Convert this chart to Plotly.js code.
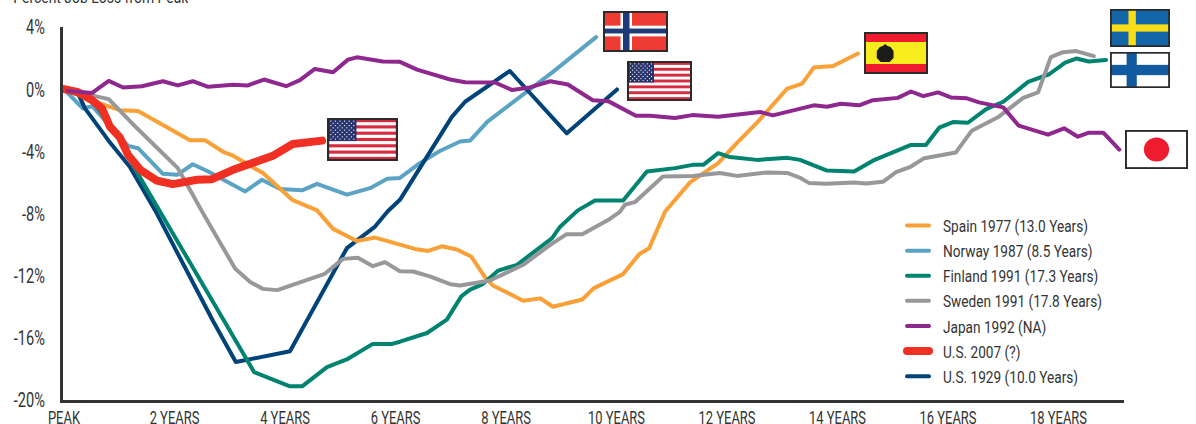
<!DOCTYPE html>
<html><head><meta charset="utf-8">
<script src="https://cdn.plot.ly/plotly-3.0.1.min.js"></script>
<style>
html,body{margin:0;padding:0;background:#fff;overflow:hidden}
#c{width:1196px;height:424px}
.js-line,.legendlines path{stroke-linecap:round;stroke-linejoin:round}
</style></head><body><div id="c"></div>
<script>
var FONT='Roboto,"Liberation Sans",sans-serif';
var TEXT='#333333';

var yearTicks=[0,2,4,6,8,10,12,14,16,18];
var yearLabels=['PEAK','2 YEARS','4 YEARS','6 YEARS','8 YEARS','10 YEARS','12 YEARS','14 YEARS','16 YEARS','18 YEARS'];
var pctTicks=[4,0,-4,-8,-12,-16,-20];
var pctLabels=['4%','0%','-4%','-8%','-12%','-16%','-20%'];

var spainX=[0,0.65,1.01,1.34,2.28,2.55,2.88,3.06,3.60,4.13,4.58,4.87,5.30,5.63,6.08,6.35,6.59,6.84,7.11,7.37,7.62,7.76,8.31,8.62,8.85,9.38,9.59,10.12,10.41,10.59,10.88,11.33,11.84,12.18,12.56,13.09,13.36,13.57,13.92,14.37];
var spainY=[0,-0.92,-1.35,-1.41,-3.28,-3.28,-4.03,-4.28,-5.40,-7.12,-7.80,-8.99,-9.77,-9.55,-10.0,-10.28,-10.41,-10.11,-10.32,-10.77,-12.10,-12.63,-13.61,-13.46,-14.0,-13.53,-12.80,-11.90,-10.62,-10.24,-7.87,-6.0,-4.76,-3.45,-2.09,0.04,0.36,1.39,1.49,2.29];

var norwayX=[0,0.34,0.51,1.16,1.34,1.79,2.05,2.33,2.61,3.28,3.58,3.91,4.31,4.58,5.12,5.54,5.85,6.08,6.44,6.81,7.17,7.35,7.66,8.38,8.85,9.63];
var norwayY=[0,-1.24,-1.09,-3.65,-3.80,-5.45,-5.51,-4.83,-5.30,-6.58,-5.83,-6.42,-6.51,-6.09,-6.79,-6.37,-5.77,-5.71,-4.76,-3.96,-3.37,-3.31,-2.10,-0.17,1.11,3.35];

var finlandX=[0,0.51,0.83,1.05,1.16,1.38,1.74,3.44,4.09,4.31,4.76,5.14,5.59,5.94,6.08,6.57,6.93,7.19,7.35,7.58,7.86,8.20,8.83,8.98,9.30,9.61,10.12,10.55,11.06,11.38,11.57,11.84,12.05,12.54,13.10,13.32,13.81,14.30,14.64,14.93,15.33,15.60,15.84,16.09,16.36,16.69,17.0,17.45,17.83,18.12,18.32,18.55,18.86];
var finlandY=[0,-0.71,-2.31,-3.27,-4.23,-5.70,-7.88,-18.2,-19.12,-19.12,-17.88,-17.35,-16.39,-16.39,-16.25,-15.69,-14.83,-13.33,-12.90,-12.54,-11.67,-11.30,-9.60,-8.85,-7.8,-7.16,-7.16,-5.30,-5.08,-4.87,-4.87,-4.12,-4.37,-4.55,-4.42,-4.55,-5.24,-5.30,-4.60,-4.19,-3.59,-3.59,-2.48,-2.12,-2.16,-1.28,-0.81,0.47,0.96,1.71,1.97,1.78,1.88];

var swedenX=[0,0.52,0.81,1.23,2.06,2.28,2.50,3.10,3.37,3.60,3.86,4.72,5.05,5.32,5.59,5.81,6.08,6.32,6.62,6.99,7.17,7.71,8.31,8.80,9.09,9.38,9.88,10.06,10.15,10.33,10.84,11.38,11.87,12.18,12.72,13.10,13.32,13.48,13.79,14.30,14.52,14.82,15.06,15.33,15.57,16.14,16.43,16.92,17.36,17.63,17.86,18.08,18.32,18.64];
var swedenY=[0,-0.43,-0.64,-2.19,-5.08,-6.47,-7.88,-11.56,-12.41,-12.85,-12.93,-11.88,-10.92,-10.85,-11.39,-11.13,-11.72,-11.73,-12.05,-12.55,-12.63,-12.31,-11.30,-10.02,-9.34,-9.34,-8.35,-7.9,-7.44,-7.27,-5.62,-5.58,-5.40,-5.58,-5.36,-5.40,-5.7,-6.03,-6.09,-6.0,-6.07,-5.96,-5.34,-4.98,-4.44,-4.08,-2.67,-1.77,-0.56,-0.21,2.06,2.38,2.45,2.13];

var japanX=[0.07,0.51,0.81,1.07,1.41,1.79,2.06,2.33,2.61,3.06,3.33,3.62,4.02,4.27,4.54,4.87,5.14,5.30,5.77,6.08,6.39,6.68,6.99,7.26,7.80,8.11,8.43,8.80,9.12,9.57,9.85,10.35,10.61,11.06,11.37,11.84,12.60,12.83,13.32,13.57,13.81,14.06,14.39,14.64,15.09,15.33,15.55,15.82,16.05,16.33,16.56,17.0,17.28,17.81,18.10,18.35,18.55,18.81,19.10];
var japanY=[-0.11,-0.24,0.53,0.11,0.19,0.51,0.24,0.51,0.15,0.28,0.24,0.62,0.19,0.58,1.30,1.09,1.90,2.05,1.78,1.76,1.26,0.94,0.62,0.45,0.43,-0.06,0.11,0.51,0.30,-0.71,-0.77,-1.71,-1.71,-1.86,-1.67,-1.78,-1.47,-1.69,-1.28,-1.04,-1.13,-0.94,-1.04,-0.71,-0.56,-0.15,-0.45,-0.21,-0.53,-0.58,-0.85,-1.17,-2.35,-2.93,-2.52,-3.06,-2.80,-2.80,-3.89];

var us2007X=[0,0.24,0.51,0.69,0.83,1.01,1.16,1.38,1.68,1.97,2.41,2.68,3.06,3.78,4.14,4.42,4.67];
var us2007Y=[0,-0.17,-0.71,-1.25,-2.40,-3.10,-4.23,-5.19,-5.88,-6.11,-5.83,-5.79,-5.19,-4.29,-3.53,-3.48,-3.31];

var us1929X=[0,0.24,0.38,0.80,1.19,1.65,2.70,3.11,4.09,5.12,5.63,5.86,6.08,6.57,7.02,7.26,8.07,9.10,10.01];
var us1929Y=[0,-0.17,-1.24,-3.28,-4.99,-7.80,-14.93,-17.56,-16.86,-10.23,-8.84,-7.86,-7.12,-4.34,-1.78,-0.81,1.17,-2.84,-0.02];

var seriesNames=['Spain 1977 (13.0 Years)','Norway 1987 (8.5 Years)','Finland 1991 (17.3 Years)','Sweden 1991 (17.8 Years)','Japan 1992 (NA)','U.S. 2007 (?)','U.S. 1929 (10.0 Years)'];
var seriesColors=['#F9A036','#5BA3C4','#00846F','#98989A','#8E288E','#F03022','#004379'];

function tr(i,x,y,w){return {x:x,y:y,name:seriesNames[i],mode:'lines',legendrank:i+1,
  line:{color:seriesColors[i],width:w||4,shape:'linear'},hoverinfo:'skip'};}
var data=[tr(1,norwayX,norwayY),tr(6,us1929X,us1929Y),tr(0,spainX,spainY),tr(2,finlandX,finlandY),
          tr(3,swedenX,swedenY),tr(5,us2007X,us2007Y,8),tr(4,japanX,japanY)];

/* flags */
function wrap(inner){return 'data:image/svg+xml;charset=utf-8,'+encodeURIComponent(
 '<svg xmlns="http://www.w3.org/2000/svg" width="130" height="84" viewBox="0 0 130 84" preserveAspectRatio="none">'+inner+
 '<rect x="2" y="2" width="126" height="80" fill="none" stroke="#2b2b2b" stroke-width="4"/></svg>');}
function usFlag(){var s='<rect width="130" height="84" fill="#fff"/>',i,j,h=80/13;
 for(i=0;i<13;i+=2)s+='<rect x="2" y="'+(2+i*h)+'" width="126" height="'+h+'" fill="#D92B3F"/>';
 s+='<rect x="2" y="2" width="52" height="'+(7*h)+'" fill="#27346E"/>';
 for(j=0;j<9;j++)for(i=0;i<(j%2?5:6);i++)s+='<circle cx="'+(7+i*8.4+(j%2?4.2:0))+'" cy="'+(6+j*4.4)+'" r="1.3" fill="#fff"/>';
 return wrap(s);}
function norway(){return wrap('<rect width="130" height="84" fill="#EE3B33"/><rect x="35" width="23" height="84" fill="#fff"/><rect y="30" width="130" height="22" fill="#fff"/><rect x="40" width="13" height="84" fill="#1F3A7A"/><rect y="36" width="130" height="10" fill="#1F3A7A"/>');}
function spain(){return wrap('<rect width="130" height="84" fill="#EE1C2E"/><rect y="20" width="130" height="44" fill="#F7EC1E"/><path d="M26,38 L32,30 L38,28 L43,24 L48,28 L54,30 L60,38 L60,52 L52,60 L34,60 L26,52 Z" fill="#1c1c1c"/>');}
function sweden(){return wrap('<rect width="130" height="84" fill="#1367A8"/><rect x="40" width="16" height="84" fill="#F9DD16"/><rect y="34" width="130" height="16" fill="#F9DD16"/>');}
function finland(){return wrap('<rect width="130" height="84" fill="#fff"/><rect x="36" width="22" height="84" fill="#125AA0"/><rect y="30" width="130" height="24" fill="#125AA0"/>');}
function japan(){return wrap('<rect width="130" height="84" fill="#fff"/><circle cx="65" cy="42" r="26" fill="#EE1C2E"/>');}
var flagBoxes=[[usFlag(),327,118,398,161],[norway(),603,11,668,52],[usFlag(),627,61,692,101],[spain(),864,32,928,74],[sweden(),1110,9,1170,47],[finland(),1110,52,1170,88],[japan(),1125,130,1188,169]];
var L=63,T=27,R=1124,B=400;
var images=flagBoxes.map(function(f){return {source:f[0],xref:'paper',yref:'paper',
  x:(f[1]-L)/(R-L),y:(B-f[2])/(B-T),sizex:(f[3]-f[1])/(R-L),sizey:(f[4]-f[2])/(B-T),
  xanchor:'left',yanchor:'top',sizing:'stretch',layer:'above'};});

var layout={
 width:1196,height:424,margin:{l:L,r:1196-R,t:T,b:424-B,pad:0},
 paper_bgcolor:'#fff',plot_bgcolor:'#fff',
 font:{family:FONT,color:TEXT,size:18},
 xaxis:{range:[-0.018,19.185],tickvals:yearTicks,ticktext:yearLabels,showgrid:false,zeroline:false,
   showline:true,linecolor:'#333333',linewidth:3,ticks:'',ticklabelstandoff:-2,tickfont:{family:FONT,size:19,color:TEXT},tickangle:0},
 yaxis:{range:[-20,4],tickvals:pctTicks,ticktext:pctLabels,showgrid:false,zeroline:false,
   showline:true,linecolor:'#333333',linewidth:3,ticks:'',ticklabelstandoff:11,tickfont:{family:FONT,size:21,color:TEXT}},
 legend:{x:(903-L)/(R-L),xanchor:'left',y:(B-208)/(B-T),yanchor:'top',bgcolor:'rgba(0,0,0,0)',
   font:{family:FONT,size:17,color:TEXT},itemwidth:30,borderwidth:0},
 showlegend:true,
 images:images,
 annotations:[{xref:'paper',yref:'paper',x:(100.5-L)/(R-L),y:(B+3)/(B-T),xanchor:'center',yanchor:'middle',
   text:'Percent Job Loss from Peak',showarrow:false,font:{family:FONT,size:17,color:TEXT}}]
};

/* The reference uses a condensed face; squeeze the real text by measured reference widths */
function condense(sel,refText,targetWidth){
  var nodes=[].slice.call(document.querySelectorAll(sel));
  var ref=nodes.filter(function(n){return n.textContent===refText;})[0];
  if(!ref)return;
  var k=targetWidth/ref.getComputedTextLength();
  nodes.forEach(function(n){
    n.setAttribute('textLength',(n.getComputedTextLength()*k).toFixed(2));
    n.setAttribute('lengthAdjust','spacingAndGlyphs');
  });
}
Plotly.newPlot('c',data,layout,{displayModeBar:false,staticPlot:true}).then(function(){
  condense('.xtick text','10 YEARS',57);
  condense('.ytick text','-12%',31);
  condense('.legendtext','Sweden 1991 (17.8 Years)',159);
  condense('.annotation-text','Percent Job Loss from Peak',175);
  [].forEach.call(document.querySelectorAll('.legendlines path'),function(p){p.setAttribute('d','M4,0h22');});
});
</script></body></html>
